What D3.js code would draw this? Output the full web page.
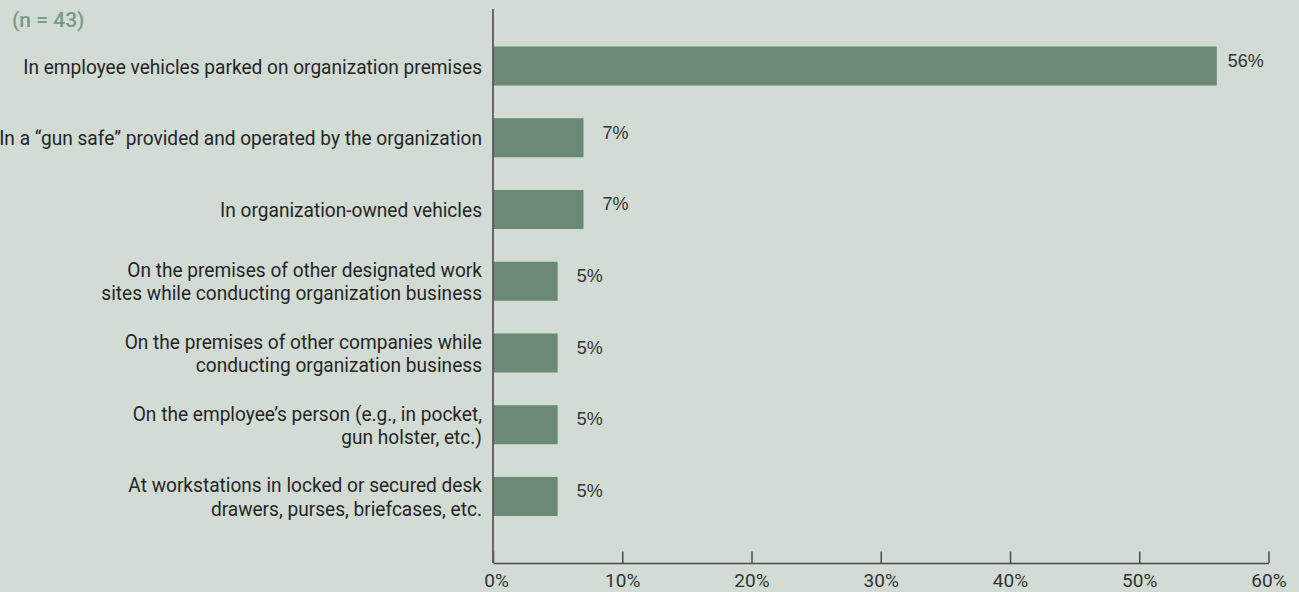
<!DOCTYPE html>
<html>
<head>
<meta charset="utf-8">
<script src="https://cdn.jsdelivr.net/npm/d3@7"></script>
<style>
  html, body { margin: 0; padding: 0; background: #d2dcd4; }
  svg { display: block; }
  .cat { font-family: Roboto, "Liberation Sans", sans-serif; font-size: 21px; fill: #262626; }
  .val { font-family: "Liberation Sans", Arial, sans-serif; font-size: 18px; fill: #333; }
  .tick text { font-family: Roboto, "Liberation Sans", sans-serif; font-size: 19px; fill: #333; }
  .note { font-family: Roboto, "Liberation Sans", sans-serif; font-size: 21px; fill: #7b9a86; font-weight: 500; }
</style>
</head>
<body>
<svg id="chart" width="1299" height="592"></svg>
<script>
// Where employees keep their firearms (share of respondents)
const categories = [
  ["In employee vehicles parked on organization premises"],
  ["In a \u201cgun safe\u201d provided and operated by the organization"],
  ["In organization-owned vehicles"],
  ["On the premises of other designated work", "sites while conducting organization business"],
  ["On the premises of other companies while", "conducting organization business"],
  ["On the employee\u2019s person (e.g., in pocket,", "gun holster, etc.)"],
  ["At workstations in locked or secured desk", "drawers, purses, briefcases, etc."]
];
const values = [56, 7, 7, 5, 5, 5, 5];
const tickValues = [0, 10, 20, 30, 40, 50, 60];
const sampleNote = "(n = 43)";

const svg = d3.select("#chart");
const x0 = 493, x1 = 1268.5, axisY = 563;

const x = d3.scaleLinear().domain([0, 60]).range([x0, x1]);
const y = d3.scaleBand()
  .domain(d3.range(categories.length))
  .range([46.5, 516])
  .paddingInner(0.456)
  .paddingOuter(0);

// bars
svg.append("g").selectAll("rect")
  .data(values)
  .join("rect")
  .attr("x", x(0))
  .attr("y", (d, i) => y(i))
  .attr("width", d => x(d) - x(0))
  .attr("height", y.bandwidth())
  .attr("fill", "#6c8976");

// value labels
svg.append("g").selectAll("text")
  .data(values)
  .join("text")
  .attr("class", "val")
  .attr("x", d => x(d) + (d > 20 ? 11 : 19))
  .attr("y", (d, i) => y(i) + y.bandwidth() / 2 - 4)
  .attr("dominant-baseline", "middle")
  .text(d => d + "%");

// category labels, right aligned next to the axis, set in a condensed width
const lineH = 23.3;
const condense = 0.91;
svg.append("g").selectAll("text")
  .data(categories)
  .join("text")
  .attr("class", "cat")
  .attr("text-anchor", "end")
  .attr("transform", (d, i) => {
    const cy = y(i) + y.bandwidth() / 2;
    return `translate(482,${cy - (d.length - 1) * lineH / 2}) scale(${condense},1)`;
  })
  .each(function(lines) {
    d3.select(this).selectAll("tspan")
      .data(lines)
      .join("tspan")
      .attr("x", 0)
      .attr("y", (l, j) => j * lineH)
      .attr("dy", "0.36em")
      .text(l => l);
  });

// x axis with upward ticks
const xAxis = d3.axisBottom(x)
  .tickValues(tickValues)
  .tickFormat(d => d + "%")
  .tickSize(-11.5)
  .tickSizeOuter(0)
  .tickPadding(11);

const gx = svg.append("g")
  .attr("transform", `translate(0,${axisY})`)
  .call(xAxis);
gx.selectAll("path, line").attr("stroke", "#4a4a4a").attr("stroke-width", 1.5);
gx.selectAll(".tick text").attr("dx", d => d === 0 ? 3 : 0);

// vertical baseline
svg.append("line")
  .attr("x1", x0).attr("x2", x0)
  .attr("y1", 9).attr("y2", axisY)
  .attr("stroke", "#5a5a5a")
  .attr("stroke-width", 1.8);

svg.append("text")
  .attr("class", "note")
  .attr("x", 12)
  .attr("y", 27)
  .text(sampleNote);
</script>
</body>
</html>
